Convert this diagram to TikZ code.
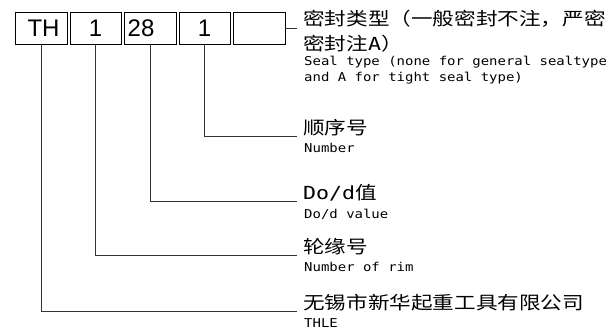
\documentclass[tikz,border=0pt]{standalone}
\usepackage{fontspec}
\setmainfont{Liberation Sans}
\newfontfamily\cjk[FakeStretch=1.2]{Noto Sans CJK SC}
\newfontfamily\mono[FakeStretch=1.2]{DejaVu Sans Mono}
\newfontfamily\monoen[FakeStretch=1.145]{DejaVu Sans Mono}
\begin{document}
\begin{tikzpicture}[x=1pt,y=-1pt,
  codebox/.style={draw=black,line width=0.9pt,minimum width=51pt,minimum height=32pt,inner sep=0pt},
  codetxt/.style={font=\fontsize{24}{24}\selectfont,inner sep=0pt,anchor=base},
  cn/.style={font=\cjk\fontsize{18}{18}\selectfont,inner sep=0pt,anchor=base west},
  en/.style={font=\monoen\fontsize{12.2}{12.2}\selectfont,inner sep=0pt,anchor=base west},
  lead/.style={draw=black!80,line width=0.8pt}]
\useasboundingbox[fill=white] (0,0) rectangle (610,336);
% boxes
\node[codebox,minimum width=52pt] (b1) at (41,28) {};
\node[codebox] (b2) at (95.5,28) {};
\node[codebox,minimum width=52pt] (b3) at (150,28) {};
\node[codebox] (b4) at (204.5,28) {};
\node[codebox,minimum width=52pt] (b5) at (259,28) {};
\node[codetxt] (t1) at (43.5,37) {TH};
\node[codetxt] (t2) at (95.5,37) {1};
\node[codetxt,anchor=base west] (t3) at (127.5,37) {28};
\node[codetxt] (t4) at (204.5,37) {1};
% leader end points
\coordinate (e5) at (297,28);
\coordinate (e4) at (297,136);
\coordinate (e3) at (297,201);
\coordinate (e2) at (297,255);
\coordinate (e1) at (297,311);
% labels
\node[cn] (c5a) at (303,26) {密封类型（一般密封不注，严密};
\node[cn] (c5b) at (303,51) {密封注{\mono A}）};
\node[en] (n5a) at (304,65.5) {Seal type (none for general sealtype};
\node[en] (n5b) at (304,81.5) {and A for tight seal type)};
\node[cn] (c4) at (303,134.5) {顺序号};
\node[en] (n4) at (304,153) {Number};
\node[cn] (c3) at (303,199.5) {{\mono Do/d}值};
\node[en] (n3) at (304,219) {Do/d value};
\node[cn] (c2) at (303,253.5) {轮缘号};
\node[en] (n2) at (304,272) {Number of rim};
\node[cn] (c1) at (303,309.5) {无锡市新华起重工具有限公司};
\node[en] (n1) at (304,328) {THLE};
% connectors
\draw[lead] (b5.east) -- (e5);
\draw[lead] (b4.south) |- (e4);
\draw[lead] (b3.south) |- (e3);
\draw[lead] (b2.south) |- (e2);
\draw[lead] (b1.south) |- (e1);
\end{tikzpicture}
\end{document}
